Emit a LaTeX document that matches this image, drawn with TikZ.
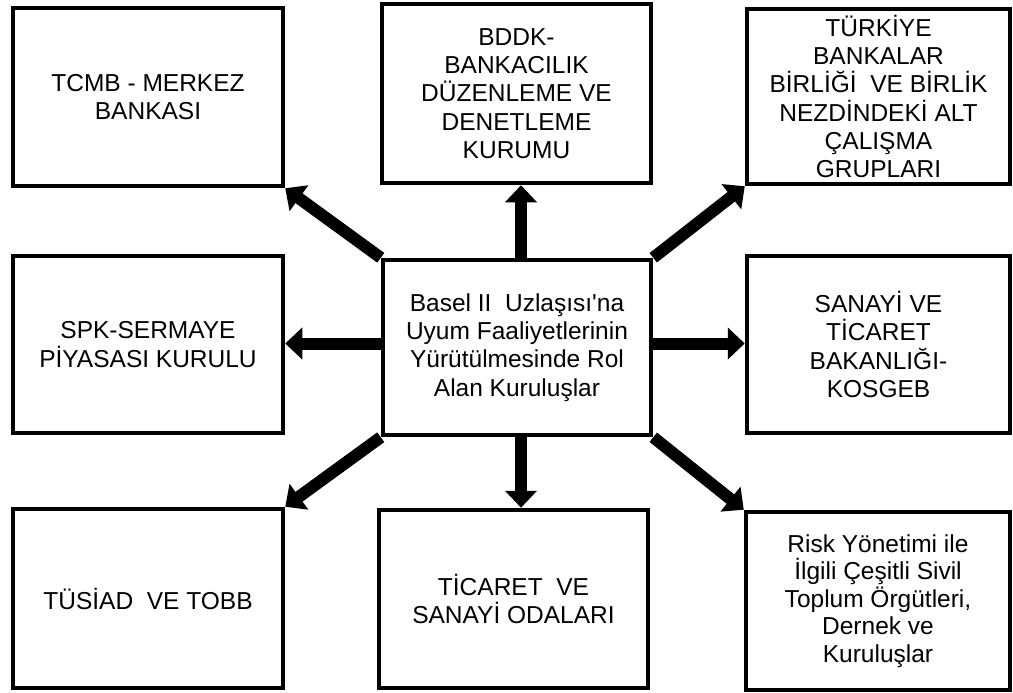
\documentclass[tikz,border=0pt]{standalone}
\usepackage{fontspec}
\setmainfont{Liberation Sans}
\newfontfamily\boxfont{Liberation Sans}
\usetikzlibrary{arrows.meta}
\tikzset{
  box/.style={draw=black, line width=4.5pt, fill=white, align=center, inner sep=2pt,
    font=\boxfont\fontsize{24.5pt}{28.3pt}\selectfont, text=black},
  arr/.style={line width=12pt, -{Triangle[width=31pt,length=17pt]}},
}
\begin{document}
\begin{tikzpicture}[x=1pt,y=-1pt]
\useasboundingbox (0,0) rectangle (1013,693);
\node[box, minimum width=270pt, minimum height=178pt] (tcmb) at (148,97) {TCMB - MERKEZ\\BANKASI};
\node[box, minimum width=269pt, minimum height=179pt] (bddk) at (516.5,93.5) {BDDK-\\BANKACILIK\\DÜZENLEME VE\\DENETLEME\\KURUMU};
\node[box, minimum width=263pt, minimum height=175pt] (tbb) at (878.5,96.5) {TÜRKİYE\\BANKALAR\\BİRLİĞİ\ \ VE BİRLİK\\NEZDİNDEKİ ALT\\ÇALIŞMA\\GRUPLARI};
\node[box, minimum width=270pt, minimum height=177pt] (spk) at (148,344.5) {SPK-SERMAYE\\PİYASASI KURULU};
\node[box, minimum width=268pt, minimum height=175pt] (c) at (517,347.5) {Basel II\ \ Uzlaşısı'na\\Uyum Faaliyetlerinin\\Yürütülmesinde Rol\\Alan Kuruluşlar};
\node[box, minimum width=263pt, minimum height=177pt] (san) at (878.5,344.5) {SANAYİ VE\\TİCARET\\BAKANLIĞI-\\KOSGEB};
\node[box, minimum width=270pt, minimum height=179pt] (tus) at (148,598.5) {TÜSİAD\ \ VE TOBB};
\node[box, minimum width=269pt, minimum height=178pt] (tic) at (513.5,599) {TİCARET\ \ VE\\SANAYİ ODALARI};
\node[box, minimum width=264pt, minimum height=178pt, font=\boxfont\fontsize{24.5pt}{27.5pt}\selectfont] (risk) at (878,601) {Risk Yönetimi ile\\İlgili Çeşitli Sivil\\Toplum Örgütleri,\\Dernek ve\\Kuruluşlar};
\draw[arr] (c.north west) -- (tcmb.south east);
\draw[arr] ([xshift=4pt]c.north) -- ([xshift=4pt]c.north |- bddk.south);
\draw[arr] (c.north east) -- (tbb.south west);
\draw[arr] ([yshift=4pt]c.west) -- ([yshift=4pt]c.west -| spk.east);
\draw[arr] ([yshift=4pt]c.east) -- ([yshift=4pt]c.east -| san.west);
\draw[arr] (c.south west) -- (tus.north east);
\draw[arr] ([xshift=4pt]c.south) -- ([xshift=4pt]c.south |- tic.north);
\draw[arr] (c.south east) -- (risk.north west);
\end{tikzpicture}
\end{document}
